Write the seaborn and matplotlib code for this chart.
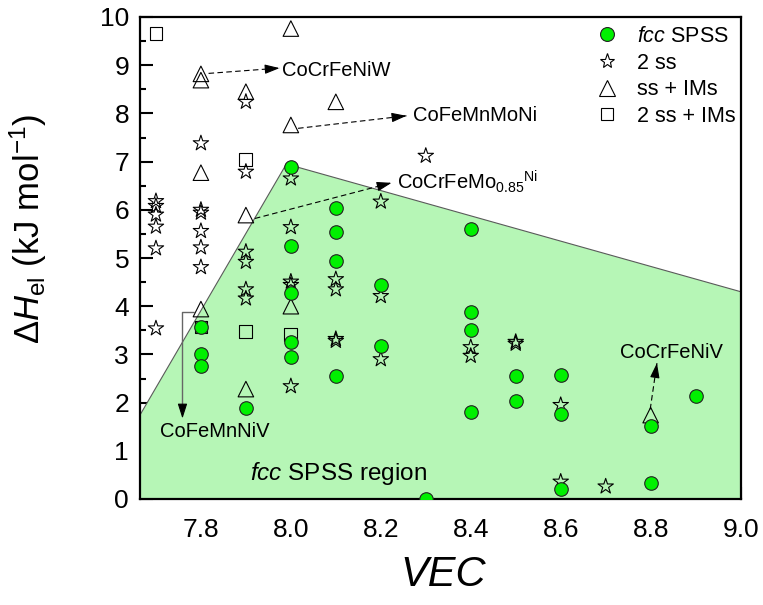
import numpy as np
import pandas as pd
import matplotlib
matplotlib.use("Agg")
import matplotlib.pyplot as plt
import seaborn as sns
from matplotlib.lines import Line2D
from matplotlib.patches import Polygon
from matplotlib.ticker import MultipleLocator

# ---------------- data ----------------
fcc_vec = [7.8, 7.8, 7.8, 7.9, 8.0, 8.0, 8.0, 8.0, 8.0, 8.1, 8.1, 8.1, 8.1,
           8.2, 8.2, 8.3, 8.4, 8.4, 8.4, 8.4, 8.5, 8.5, 8.6, 8.6, 8.6, 8.8, 8.8, 8.9]
fcc_h = [3.57, 3.01, 2.75, 1.88, 6.89, 5.24, 4.28, 3.26, 2.95, 6.03, 5.53, 4.94, 2.56,
         4.44, 3.18, 0.01, 5.60, 3.87, 3.51, 1.80, 2.55, 2.03, 2.57, 1.76, 0.20, 1.51, 0.33, 2.14]

ss2_vec = [7.7, 7.7, 7.7, 7.7, 7.7, 7.7,
           7.8, 7.8, 7.8, 7.8, 7.8, 7.8,
           7.9, 7.9, 7.9, 7.9, 7.9, 7.9,
           8.0, 8.0, 8.0, 8.0, 8.0,
           8.1, 8.1, 8.1, 8.1,
           8.2, 8.2, 8.2, 8.3, 8.4, 8.4, 8.5, 8.5, 8.6, 8.6, 8.7]
ss2_h = [6.18, 6.08, 5.90, 5.65, 5.20, 3.54,
         7.38, 6.00, 5.94, 5.56, 5.22, 4.81,
         8.24, 6.79, 5.13, 4.92, 4.35, 4.16,
         6.65, 5.64, 4.51, 4.44, 2.34,
         4.56, 4.35, 3.32, 3.28,
         6.17, 4.21, 2.90, 7.12, 3.15, 2.97, 3.26, 3.22, 1.95, 0.36, 0.26]

ssim_vec = [7.8, 7.8, 7.8, 7.8, 7.9, 7.9, 7.9, 8.0, 8.0, 8.0, 8.1, 8.8]
ssim_h = [8.82, 8.69, 6.77, 3.94, 8.45, 5.89, 2.28, 9.76, 7.76, 4.00, 8.24, 1.74]

ss2im_vec = [7.7, 7.8, 7.9, 7.9, 8.0]
ss2im_h = [9.66, 3.57, 7.05, 3.47, 3.42]

# fcc SPSS region boundary
region_vec = [7.60, 7.99, 9.05, 9.05, 7.60]
region_h = [0.71, 6.95, 4.17, 0.0, 0.0]

legend_labels = [r"$\mathit{fcc}$ SPSS", "2 ss", "ss + IMs", "2 ss + IMs"]
x_ticks = [7.8, 8.0, 8.2, 8.4, 8.6, 8.8, 9.0]
y_ticks = list(range(0, 11))

# ---------------- style ----------------
sns.set_theme(style="ticks")
plt.rcParams["font.family"] = ["Liberation Sans", "DejaVu Sans"]
plt.rcParams["mathtext.fontset"] = "custom"
plt.rcParams["mathtext.rm"] = "Liberation Sans"
plt.rcParams["mathtext.it"] = "Liberation Sans:italic"
plt.rcParams["mathtext.bf"] = "Liberation Sans:bold"
for key in ["text.color", "axes.labelcolor", "xtick.color", "ytick.color",
            "xtick.labelcolor", "ytick.labelcolor", "axes.edgecolor"]:
    plt.rcParams[key] = "black"

W, H = 763, 605
fig = plt.figure(figsize=(W / 100, H / 100), dpi=100)
ax = fig.add_axes([140.2 / W, 1 - 499 / H, 600.4 / W, 482 / H])

ax.add_patch(Polygon(np.column_stack([region_vec, region_h]), closed=True,
                     facecolor="#b6f6b6", edgecolor="#5a5a5a", lw=0.8, zorder=1))

sns.scatterplot(x=ss2_vec, y=ss2_h, marker="*", s=135, facecolor="none",
                edgecolor="black", linewidth=0.8, ax=ax, zorder=3)
sns.scatterplot(x=ssim_vec, y=ssim_h, marker="^", s=125, facecolor="none",
                edgecolor="black", linewidth=0.8, ax=ax, zorder=3)
sns.scatterplot(x=ss2im_vec, y=ss2im_h, marker="s", s=85, facecolor="none",
                edgecolor="black", linewidth=0.8, ax=ax, zorder=3)
sns.scatterplot(x=fcc_vec, y=fcc_h, marker="o", s=95, color="#00f000",
                edgecolor="#222222", linewidth=0.8, ax=ax, zorder=4)

ax.set_xlim(7.665, 9.0)
ax.set_ylim(0, 10)
ax.set_xticks(x_ticks)
ax.set_xticklabels([f"{v:.1f}" for v in x_ticks])
ax.set_yticks(y_ticks)
ax.xaxis.set_minor_locator(MultipleLocator(0.1))
ax.yaxis.set_minor_locator(MultipleLocator(0.5))
ax.tick_params(which="major", direction="in", length=9, width=1.5, labelsize=19,
               top=False, right=False, color="black", labelcolor="black")
ax.tick_params(which="minor", direction="in", length=4.5, width=1.5,
               top=False, right=False, color="black")
ax.tick_params(axis="x", pad=14)
ax.tick_params(axis="y", pad=8)
for sp in ax.spines.values():
    sp.set_linewidth(1.6)
    sp.set_color("black")
ax.set_xlabel("")
ax.set_ylabel("")

fig.text(28 / W, 1 - 229 / H, r"$\Delta\mathit{H}_{\mathrm{el}}$ (kJ mol$^{-1}$)",
         rotation=90, ha="center", va="center", fontsize=25, color="black")
fig.text(443 / W, 1 - 575 / H, "VEC", style="italic", ha="center", va="center",
         fontsize=30, color="black")

# ---------------- annotations ----------------
def dashed_arrow(tail, head):
    ax.plot([tail[0], head[0]], [tail[1], head[1]], ls=(0, (5, 3)), color="black",
            lw=0.8, zorder=5)
    near = (head[0] + 0.06 * (tail[0] - head[0]), head[1] + 0.06 * (tail[1] - head[1]))
    ax.annotate("", xy=head, xytext=near, zorder=5,
                arrowprops=dict(arrowstyle="-|>,head_length=0.5,head_width=0.16",
                                mutation_scale=18, color="black", lw=0.8,
                                shrinkA=0, shrinkB=0))

ann_fs = 14.5
dashed_arrow((7.817, 8.83), (7.975, 8.94))
ax.text(7.98, 8.78, "CoCrFeNiW", fontsize=ann_fs, ha="left", va="baseline", zorder=6)
dashed_arrow((8.016, 7.69), (8.257, 7.95))
ax.text(8.271, 7.84, "CoFeMnMoNi", fontsize=ann_fs, ha="left", va="baseline", zorder=6)
dashed_arrow((7.92, 5.82), (8.224, 6.56))
ax.text(8.237, 6.43, r"CoCrFeMo$_{0.85}{}^{\mathrm{Ni}}$", fontsize=ann_fs, ha="left",
        va="baseline", zorder=6)
dashed_arrow((8.799, 1.86), (8.814, 2.82))
ax.text(8.731, 2.92, "CoCrFeNiV", fontsize=ann_fs, ha="left", va="baseline", zorder=6)

ax.plot([7.785, 7.759, 7.759], [3.89, 3.89, 1.9], color="#666666", lw=1.0, zorder=5)
ax.annotate("", xy=(7.759, 1.67), xytext=(7.759, 1.75), zorder=5,
            arrowprops=dict(arrowstyle="-|>,head_length=0.5,head_width=0.16",
                            mutation_scale=18, color="black", lw=0.8,
                            shrinkA=0, shrinkB=0))
ax.text(7.709, 1.29, "CoFeMnNiV", fontsize=ann_fs, ha="left", va="baseline", zorder=6)

ax.text(7.909, 0.40, r"$\mathit{fcc}$ SPSS region", fontsize=17.5, ha="left",
        va="baseline", zorder=6)

# ---------------- legend ----------------
handles = [
    Line2D([], [], ls="none", marker="o", markersize=10, markerfacecolor="#00f000",
           markeredgecolor="#222222", markeredgewidth=0.8),
    Line2D([], [], ls="none", marker="*", markersize=11, markerfacecolor="none",
           markeredgecolor="black", markeredgewidth=0.8),
    Line2D([], [], ls="none", marker="^", markersize=12, markerfacecolor="none",
           markeredgecolor="black", markeredgewidth=0.8),
    Line2D([], [], ls="none", marker="s", markersize=9, markerfacecolor="none",
           markeredgecolor="black", markeredgewidth=0.8),
]
fig.legend(handles, legend_labels, loc="upper left",
           bbox_to_anchor=(596 / W, 1 - 26 / H), bbox_transform=fig.transFigure,
           frameon=False, fontsize=15.5, handlelength=1.0, handletextpad=0.9,
           labelspacing=0.26, borderpad=0, borderaxespad=0)

fig.savefig("out.png", dpi=100)
